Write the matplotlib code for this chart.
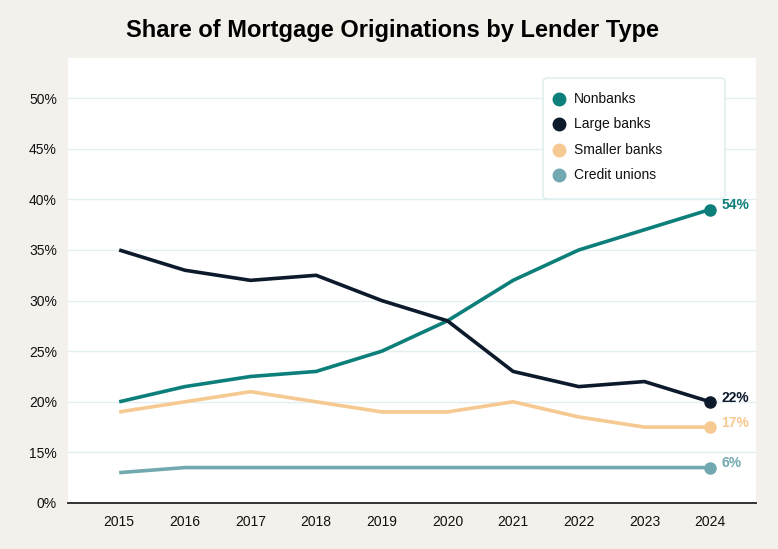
import matplotlib
matplotlib.use("Agg")
import matplotlib.pyplot as plt
from matplotlib.patches import FancyBboxPatch

years = [2015, 2016, 2017, 2018, 2019, 2020, 2021, 2022, 2023, 2024]
nonbanks = [20, 21.5, 22.5, 23, 25, 28, 32, 35, 37, 39]
large_banks = [35, 33, 32, 32.5, 30, 28, 23, 21.5, 22, 20]
smaller_banks = [19, 20, 21, 20, 19, 19, 20, 18.5, 17.5, 17.5]
credit_unions = [13, 13.5, 13.5, 13.5, 13.5, 13.5, 13.5, 13.5, 13.5, 13.5]
end_labels = ["54%", "22%", "17%", "6%"]
series_names = ["Nonbanks", "Large banks", "Smaller banks", "Credit unions"]
ytick_pos = [10, 15, 20, 25, 30, 35, 40, 45, 50]
ytick_labels = ["0%", "15%", "20%", "25%", "30%", "35%", "40%", "45%", "50%"]

colors = ["#0d7f7a", "#0c1a2c", "#f5c991", "#72a8b0"]
series = [nonbanks, large_banks, smaller_banks, credit_unions]

plt.rcParams['font.family'] = ['Liberation Sans', 'DejaVu Sans']

W, H = 778, 549
fig = plt.figure(figsize=(W/100, H/100), dpi=100, facecolor="#f4f1ec")
ax_l, ax_r, ax_t, ax_b = 68, 756, 58, 503
ax = fig.add_axes([ax_l/W, (H-ax_b)/H, (ax_r-ax_l)/W, (ax_b-ax_t)/H])
ax.set_facecolor("white")

for ys, c in zip(series, colors):
    ax.plot(years, ys, color=c, lw=2.6, solid_capstyle="butt", solid_joinstyle="round", zorder=3)
    ax.plot(years[-1], ys[-1], 'o', color=c, ms=8, zorder=4)

for ys, c, lab in zip(series, colors, end_labels):
    ax.annotate(lab, (years[-1], ys[-1]), xytext=(8, 3), textcoords="offset points",
                color=c, fontsize=10, fontweight="bold", va="center", ha="left", zorder=5)

ax.set_xlim(2014.22, 2024.70)
ax.set_ylim(10, 53.97)
ax.set_xticks(years)
ax.set_xticklabels([str(y) for y in years])
ax.set_yticks(ytick_pos)
ax.set_yticklabels(ytick_labels)
ax.tick_params(axis="both", length=0, labelsize=10, colors="#111111")
ax.tick_params(axis="y", pad=8)
ax.tick_params(axis="x", pad=9)
for t in ax.get_yticklabels():
    t.set_va("center_baseline")

for y in ytick_pos[1:]:
    ax.axhline(y, color="#e4f0f0", lw=1, zorder=1)

for s in ["top", "right", "left"]:
    ax.spines[s].set_visible(False)
ax.spines["bottom"].set_color("#222222")
ax.spines["bottom"].set_linewidth(1.3)

# legend box (pixel coords converted to axes fraction)
def fx(px):
    return (px - ax_l) / (ax_r - ax_l)
def fy(py):
    return (ax_b - py) / (ax_b - ax_t)

box = FancyBboxPatch((fx(543), fy(199)), fx(725) - fx(543), fy(78) - fy(199),
                     boxstyle="round,pad=0,rounding_size=0.008", transform=ax.transAxes,
                     facecolor="white", edgecolor="#dcecec", lw=1.0, zorder=6)
ax.add_patch(box)
row_y = [99, 124, 150, 175]
for name, c, ry in zip(series_names, colors, row_y):
    ax.plot([fx(559)], [fy(ry)], 'o', color=c, ms=9, transform=ax.transAxes, zorder=7,
            clip_on=False)
    ax.text(fx(574), fy(ry), name, transform=ax.transAxes, fontsize=10, color="#111111",
            va="center", ha="left", zorder=7)

fig.text(392/W, 1 - 37/H, "Share of Mortgage Originations by Lender Type",
         ha="center", va="baseline", fontsize=17, fontweight="bold", color="#000000")

fig.savefig("out.png", dpi=100, facecolor=fig.get_facecolor())
